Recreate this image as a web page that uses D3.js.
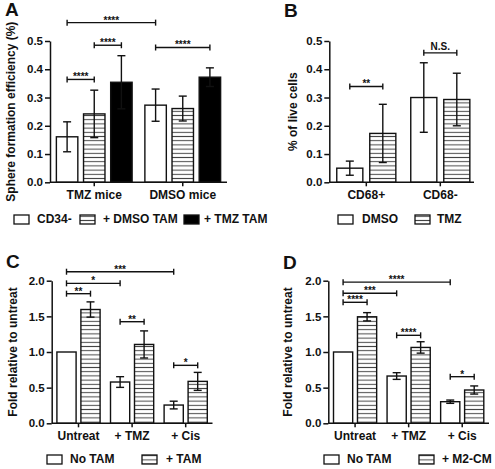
<!DOCTYPE html>
<html>
<head>
<meta charset="utf-8">
<script src="https://cdn.jsdelivr.net/npm/d3@7"></script>
<style>
  html, body { margin: 0; padding: 0; background: #fff; }
  svg { display: block; }
  text { font-family: 'Liberation Sans', Arial, sans-serif; font-weight: bold; fill: #111; }
</style>
</head>
<body>
<div id="chart"></div>
<script>
// ── Data ──
var A_GROUPS = ['TMZ mice', 'DMSO mice'];
var A_SERIES = ['CD34-', '+ DMSO TAM', '+ TMZ TAM'];
var A_MEAN = [[0.161, 0.242, 0.354], [0.273, 0.261, 0.372]];
var A_ERR = [[0.053, 0.084, 0.094], [0.057, 0.044, 0.033]];
var A_SIG = [[[0, 0], [0, 1], 0.364, '****'], [[0, 1], [0, 2], 0.485, '****'],
             [[1, 0], [1, 2], 0.477, '****'], [[0, 0], [1, 0], 0.565, '****']];

var B_GROUPS = ['CD68+', 'CD68-'];
var B_SERIES = ['DMSO', 'TMZ'];
var B_MEAN = [[0.050, 0.173], [0.300, 0.293]];
var B_ERR = [[0.025, 0.103], [0.123, 0.093]];
var B_SIG = [[[0, 0], [0, 1], 0.339, '**'], [[1, 0], [1, 1], 0.458, 'N.S.']];

var C_GROUPS = ['Untreat', '+ TMZ', '+ Cis'];
var C_SERIES = ['No TAM', '+ TAM'];
var C_MEAN = [[1.0, 1.596], [0.579, 1.106], [0.256, 0.588]];
var C_ERR = [[0, 0.107], [0.075, 0.19], [0.054, 0.126]];
var C_SIG = [[[0, 0], [0, 1], 1.818, '**'], [[0, 0], [1, 0], 1.963, '*'], [[0, 0], [2, 0], 2.126, '***'],
             [[1, 0], [1, 1], 1.425, '**'], [[2, 0], [2, 1], 0.813, '*']];

var D_GROUPS = ['Untreat', '+ TMZ', '+ Cis'];
var D_SERIES = ['No TAM', '+ M2-CM'];
var D_MEAN = [[1.0, 1.494], [0.663, 1.064], [0.303, 0.467]];
var D_ERR = [[0, 0.058], [0.047, 0.08], [0.023, 0.057]];
var D_SIG = [[[0, 0], [0, 1], 1.697, '****'], [[0, 0], [1, 0], 1.823, '***'], [[0, 0], [2, 0], 1.98, '****'],
             [[1, 0], [1, 1], 1.234, '****'], [[2, 0], [2, 1], 0.654, '*']];

var TICKS_SMALL = [0, 0.1, 0.2, 0.3, 0.4, 0.5];
var TICKS_FOLD = [0, 0.5, 1.0, 1.5, 2.0];

// ── Styles ──
var STROKE = '#111';
var HATCH = '#444';

var svg = d3.select('#chart').append('svg')
  .attr('width', 495).attr('height', 469);

var defs = svg.append('defs');
var pat = defs.append('pattern')
  .attr('id', 'hatch')
  .attr('patternUnits', 'userSpaceOnUse')
  .attr('width', 8).attr('height', 4.2);
pat.append('rect').attr('width', 8).attr('height', 4.2).attr('fill', '#fff');
pat.append('line').attr('x1', 0).attr('x2', 8).attr('y1', 2.1).attr('y2', 2.1)
  .attr('stroke', HATCH).attr('stroke-width', 1);

function fillFor(style) {
  if (style === 'hatch') return 'url(#hatch)';
  if (style === 'solid') return '#000';
  return '#fff';
}

function drawPanel(p) {
  var g = svg.append('g');

  var y = d3.scaleLinear().domain(p.domain).range([p.y0, p.y1]);
  var x0 = d3.scaleBand().domain(p.groups).range([p.x0, p.x1]);
  var x1 = d3.scaleBand().domain(d3.range(p.series.length))
    .range([0, x0.bandwidth()])
    .paddingInner(p.padIn).paddingOuter(p.padOut);

  function barCenter(gi, si) {
    return x0(p.groups[gi]) + x1(si) + x1.bandwidth() / 2;
  }

  // panel letter
  g.append('text').attr('x', p.letterX).attr('y', p.letterY)
    .attr('font-size', '19px').text(p.letter);

  // y axis title
  g.append('text')
    .attr('transform', 'translate(' + p.titleX + ',' + ((p.y0 + p.y1) / 2) + ') rotate(-90)')
    .attr('text-anchor', 'middle')
    .attr('font-size', '12px')
    .text(p.title);

  // bars
  p.means.forEach(function (row, gi) {
    row.forEach(function (v, si) {
      var bx = x0(p.groups[gi]) + x1(si);
      g.append('rect')
        .attr('x', bx).attr('y', y(v))
        .attr('width', x1.bandwidth()).attr('height', y(0) - y(v))
        .attr('fill', fillFor(p.styles[si]))
        .attr('stroke', STROKE).attr('stroke-width', 1.4);
      var e = p.errs[gi][si];
      if (e > 0) {
        var cx = barCenter(gi, si);
        var eg = g.append('g').attr('stroke', STROKE).attr('stroke-width', 1.4);
        eg.append('line').attr('x1', cx).attr('x2', cx).attr('y1', y(v + e)).attr('y2', y(v - e));
        eg.append('line').attr('x1', cx - 4).attr('x2', cx + 4).attr('y1', y(v + e)).attr('y2', y(v + e));
        eg.append('line').attr('x1', cx - 4).attr('x2', cx + 4).attr('y1', y(v - e)).attr('y2', y(v - e));
      }
    });
  });

  // y axis
  var ya = g.append('g').attr('transform', 'translate(' + p.x0 + ',0)')
    .call(d3.axisLeft(y).tickValues(p.ticks).tickFormat(d3.format('.1f')).tickSize(5).tickSizeOuter(0).tickPadding(2));
  ya.select('.domain').attr('stroke', STROKE).attr('stroke-width', 1.5);
  ya.selectAll('.tick line').attr('stroke', STROKE).attr('stroke-width', 1.5);
  ya.selectAll('.tick text').attr('font-size', '11.5px').attr('font-family', null).attr('fill', '#111');

  // x axis
  var xa = g.append('g').attr('transform', 'translate(0,' + p.y0 + ')')
    .call(d3.axisBottom(x0).tickSize(4).tickSizeOuter(0).tickPadding(4));
  xa.select('.domain').attr('stroke', STROKE).attr('stroke-width', 1.5)
    .attr('d', 'M' + p.x0 + ',0H' + p.axisEnd);
  xa.selectAll('.tick line').attr('stroke', STROKE).attr('stroke-width', 1.5);
  xa.selectAll('.tick text').attr('font-size', '12px').attr('font-family', null).attr('fill', '#111');

  // significance brackets
  p.sig.forEach(function (s) {
    var xa0 = barCenter(s[0][0], s[0][1]);
    var xa1 = barCenter(s[1][0], s[1][1]);
    var yy = y(s[2]);
    var bg = g.append('g').attr('stroke', STROKE).attr('stroke-width', 1.4);
    bg.append('line').attr('x1', xa0).attr('x2', xa1).attr('y1', yy).attr('y2', yy);
    bg.append('line').attr('x1', xa0).attr('x2', xa0).attr('y1', yy - 3).attr('y2', yy + 3);
    bg.append('line').attr('x1', xa1).attr('x2', xa1).attr('y1', yy - 3).attr('y2', yy + 3);
    var isStar = s[3].indexOf('*') === 0;
    g.append('text')
      .attr('x', (xa0 + xa1) / 2)
      .attr('y', isStar ? yy + 1 : yy - 3)
      .attr('text-anchor', 'middle')
      .attr('font-size', '10px')
      .text(s[3]);
  });

  // legend
  p.series.forEach(function (name, si) {
    var lx = p.legendX[si];
    g.append('rect')
      .attr('x', lx).attr('y', p.legendY - 8)
      .attr('width', 15).attr('height', 9)
      .attr('fill', fillFor(p.styles[si]))
      .attr('stroke', STROKE).attr('stroke-width', 1.3);
    g.append('text')
      .attr('x', lx + p.legendGap[si]).attr('y', p.legendY)
      .attr('font-size', '12px')
      .text(name);
  });
}

drawPanel({
  letter: 'A', letterX: 5, letterY: 16,
  title: 'Sphere formation efficiency (%)', titleX: 14.5,
  groups: A_GROUPS, series: A_SERIES, means: A_MEAN, errs: A_ERR, sig: A_SIG,
  styles: ['open', 'hatch', 'solid'],
  domain: [0, 0.5], ticks: TICKS_SMALL,
  x0: 50, x1: 227, axisEnd: 227, y0: 182.3, y1: 41,
  padIn: 0.21, padOut: 0.235,
  legendX: [14, 80, 184], legendGap: [23, 23, 20], legendY: 223
});

drawPanel({
  letter: 'B', letterX: 284, letterY: 17,
  title: '% of live cells', titleX: 297,
  groups: B_GROUPS, series: B_SERIES, means: B_MEAN, errs: B_ERR, sig: B_SIG,
  styles: ['open', 'hatch'],
  domain: [0, 0.5], ticks: TICKS_SMALL,
  x0: 329.3, x1: 477.3, axisEnd: 474, y0: 182.3, y1: 41,
  padIn: 0.21, padOut: 0.226,
  legendX: [338, 415], legendGap: [24, 22], legendY: 223
});

drawPanel({
  letter: 'C', letterX: 6, letterY: 268,
  title: 'Fold relative to untreat', titleX: 16.5,
  groups: C_GROUPS, series: C_SERIES, means: C_MEAN, errs: C_ERR, sig: C_SIG,
  styles: ['open', 'hatch'],
  domain: [0, 2], ticks: TICKS_FOLD,
  x0: 51.7, x1: 212.5, axisEnd: 212.5, y0: 423.3, y1: 280.7,
  padIn: 0.2, padOut: 0.217,
  legendX: [47, 142], legendGap: [23, 24], legendY: 463
});

drawPanel({
  letter: 'D', letterX: 283, letterY: 269,
  title: 'Fold relative to untreat', titleX: 292,
  groups: D_GROUPS, series: D_SERIES, means: D_MEAN, errs: D_ERR, sig: D_SIG,
  styles: ['open', 'hatch'],
  domain: [0, 2], ticks: TICKS_FOLD,
  x0: 328.3, x1: 489, axisEnd: 489, y0: 423.3, y1: 280.7,
  padIn: 0.2, padOut: 0.217,
  legendX: [324, 419], legendGap: [23, 23], legendY: 463
});
</script>
</body>
</html>
